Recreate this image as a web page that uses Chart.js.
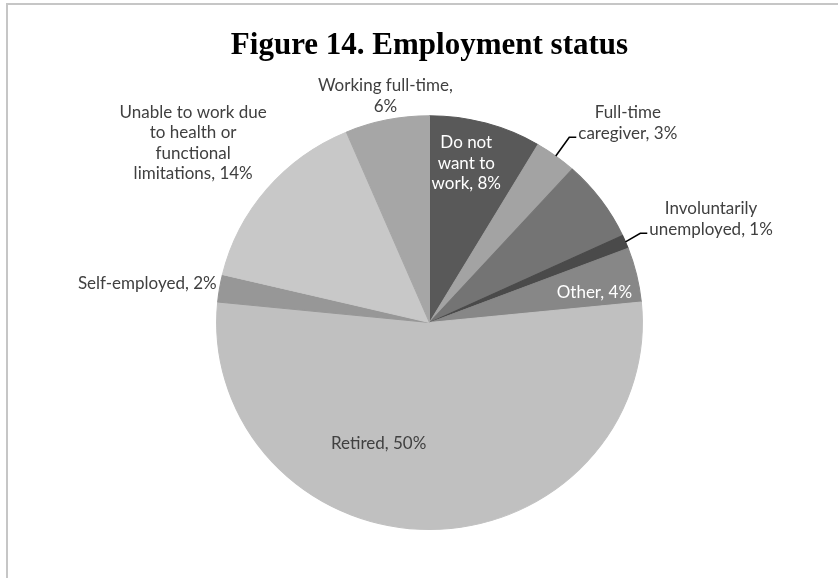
<!DOCTYPE html>
<html>
<head>
<meta charset="utf-8">
<script src="https://cdn.jsdelivr.net/npm/chart.js@4"></script>
<style>
  html, body { margin: 0; padding: 0; background: #fff; overflow: hidden; }
  #wrap { position: relative; width: 838px; height: 578px; }
  #frame {
    position: absolute; left: 6px; top: 3px; width: 900px; height: 700px;
    border-left: 2px solid #c6c6c6; border-top: 2px solid #c6c6c6;
    pointer-events: none;
  }
  canvas { position: absolute; left: 0; top: 0; }
</style>
</head>
<body>
<div id="wrap">
  <canvas id="statusChart" width="838" height="578"></canvas>
  <div id="frame"></div>
</div>
<script>
// Employment status shares, clockwise from 12 o'clock
const categories = [
  'Do not want to work',
  'Full-time caregiver',
  'Working part-time',
  'Involuntarily unemployed',
  'Other',
  'Retired',
  'Self-employed',
  'Unable to work due to health or functional limitations',
  'Working full-time'
];
const percents = [8, 3, 6, 1, 4, 50, 2, 14, 6];
const sliceColors = ['#595959', '#a3a3a3', '#747474', '#4a4a4a', '#878787', '#c0c0c0', '#979797', '#c8c8c8', '#a6a6a6'];

// wrapped label text per slice (null = no label)
const labelLines = [
  ['Do not', 'want to', `work, ${percents[0]}%`],
  ['Full-time', `caregiver, ${percents[1]}%`],
  null,
  ['Involuntarily', `unemployed, ${percents[3]}%`],
  [`Other, ${percents[4]}%`],
  [`Retired, ${percents[5]}%`],
  [`Self-employed, ${percents[6]}%`],
  ['Unable to work due', 'to health or', 'functional', `limitations, ${percents[7]}%`],
  ['Working full-time,', `${percents[8]}%`]
];

// where each label block sits: angle in degrees clockwise from top, distance as a share of the radius
const labelSpots = [
  { angle: 13, dist: 0.79, inside: true },
  { angle: 44.8, dist: 1.36, leader: true },
  null,
  { angle: 69.8, dist: 1.45, leader: true },
  { angle: 79.7, dist: 0.81, inside: true },
  { angle: 202.8, dist: 0.635 },
  { angle: 277.9, dist: 1.377 },
  { angle: 307.2, dist: 1.434 },
  { angle: 349, dist: 1.116 }
];

const LINE_H = 20.5;
const STRETCH_X = 1.029; // pie is drawn slightly wider than tall

// widen the pie horizontally around its centre
const pieStretch = {
  id: 'pieStretch',
  beforeDatasetsDraw(chart) {
    const arc = chart.getDatasetMeta(0).data[0];
    if (!arc) return;
    const ctx = chart.ctx;
    ctx.save();
    ctx.translate(arc.x, arc.y);
    ctx.scale(STRETCH_X, 1);
    ctx.translate(-arc.x, -arc.y);
  },
  afterDatasetsDraw(chart) {
    if (chart.getDatasetMeta(0).data[0]) chart.ctx.restore();
  }
};

const sliceLabels = {
  id: 'sliceLabels',
  afterDatasetsDraw(chart) {
    const ctx = chart.ctx;
    const meta = chart.getDatasetMeta(0);
    ctx.save();
    ctx.font = '17px Lato';
    ctx.textAlign = 'center';
    ctx.textBaseline = 'middle';
    meta.data.forEach((arc, i) => {
      const spot = labelSpots[i];
      const lines = labelLines[i];
      if (!spot || !lines) return;
      const p = arc.getProps(['x', 'y', 'outerRadius', 'startAngle', 'endAngle'], true);
      const a = spot.angle * Math.PI / 180 - Math.PI / 2;
      const cx = p.x + Math.cos(a) * p.outerRadius * spot.dist;
      const cy = p.y + Math.sin(a) * p.outerRadius * spot.dist;
      const top = cy - (lines.length - 1) * LINE_H / 2;
      ctx.fillStyle = spot.inside ? '#ffffff' : '#404040';
      lines.forEach((t, k) => ctx.fillText(t, cx, top + k * LINE_H));

      if (spot.leader) {
        const mid = (p.startAngle + p.endAngle) / 2;
        const ex = p.x + Math.cos(mid) * p.outerRadius * STRETCH_X;
        const ey = p.y + Math.sin(mid) * p.outerRadius;
        const w = Math.max(...lines.map(t => ctx.measureText(t).width));
        const endX = cx - w / 2 - 2;
        const ly = top + (lines.length - 1) * LINE_H + 4;
        ctx.beginPath();
        ctx.moveTo(ex, ey);
        ctx.lineTo(endX - 7, ly);
        ctx.lineTo(endX, ly);
        ctx.strokeStyle = '#000';
        ctx.lineWidth = 1.6;
        ctx.stroke();
      }
    });
    ctx.restore();
  }
};

new Chart(document.getElementById('statusChart').getContext('2d'), {
  type: 'pie',
  data: {
    labels: categories,
    datasets: [{
      data: percents,
      backgroundColor: sliceColors,
      borderColor: sliceColors,
      borderWidth: 1
    }]
  },
  options: {
    responsive: false,
    animation: false,
    layout: { padding: { top: 27, bottom: 48, left: 100, right: 79 } },
    plugins: {
      legend: { display: false },
      tooltip: { enabled: false },
      title: {
        display: true,
        fullSize: false,
        text: 'Figure 14. Employment status',
        color: '#000',
        font: { family: 'Liberation Serif', size: 31, weight: 'bold', lineHeight: 1.2 },
        padding: { top: 0, bottom: 51 }
      }
    }
  },
  plugins: [pieStretch, sliceLabels]
});
</script>
</body>
</html>
